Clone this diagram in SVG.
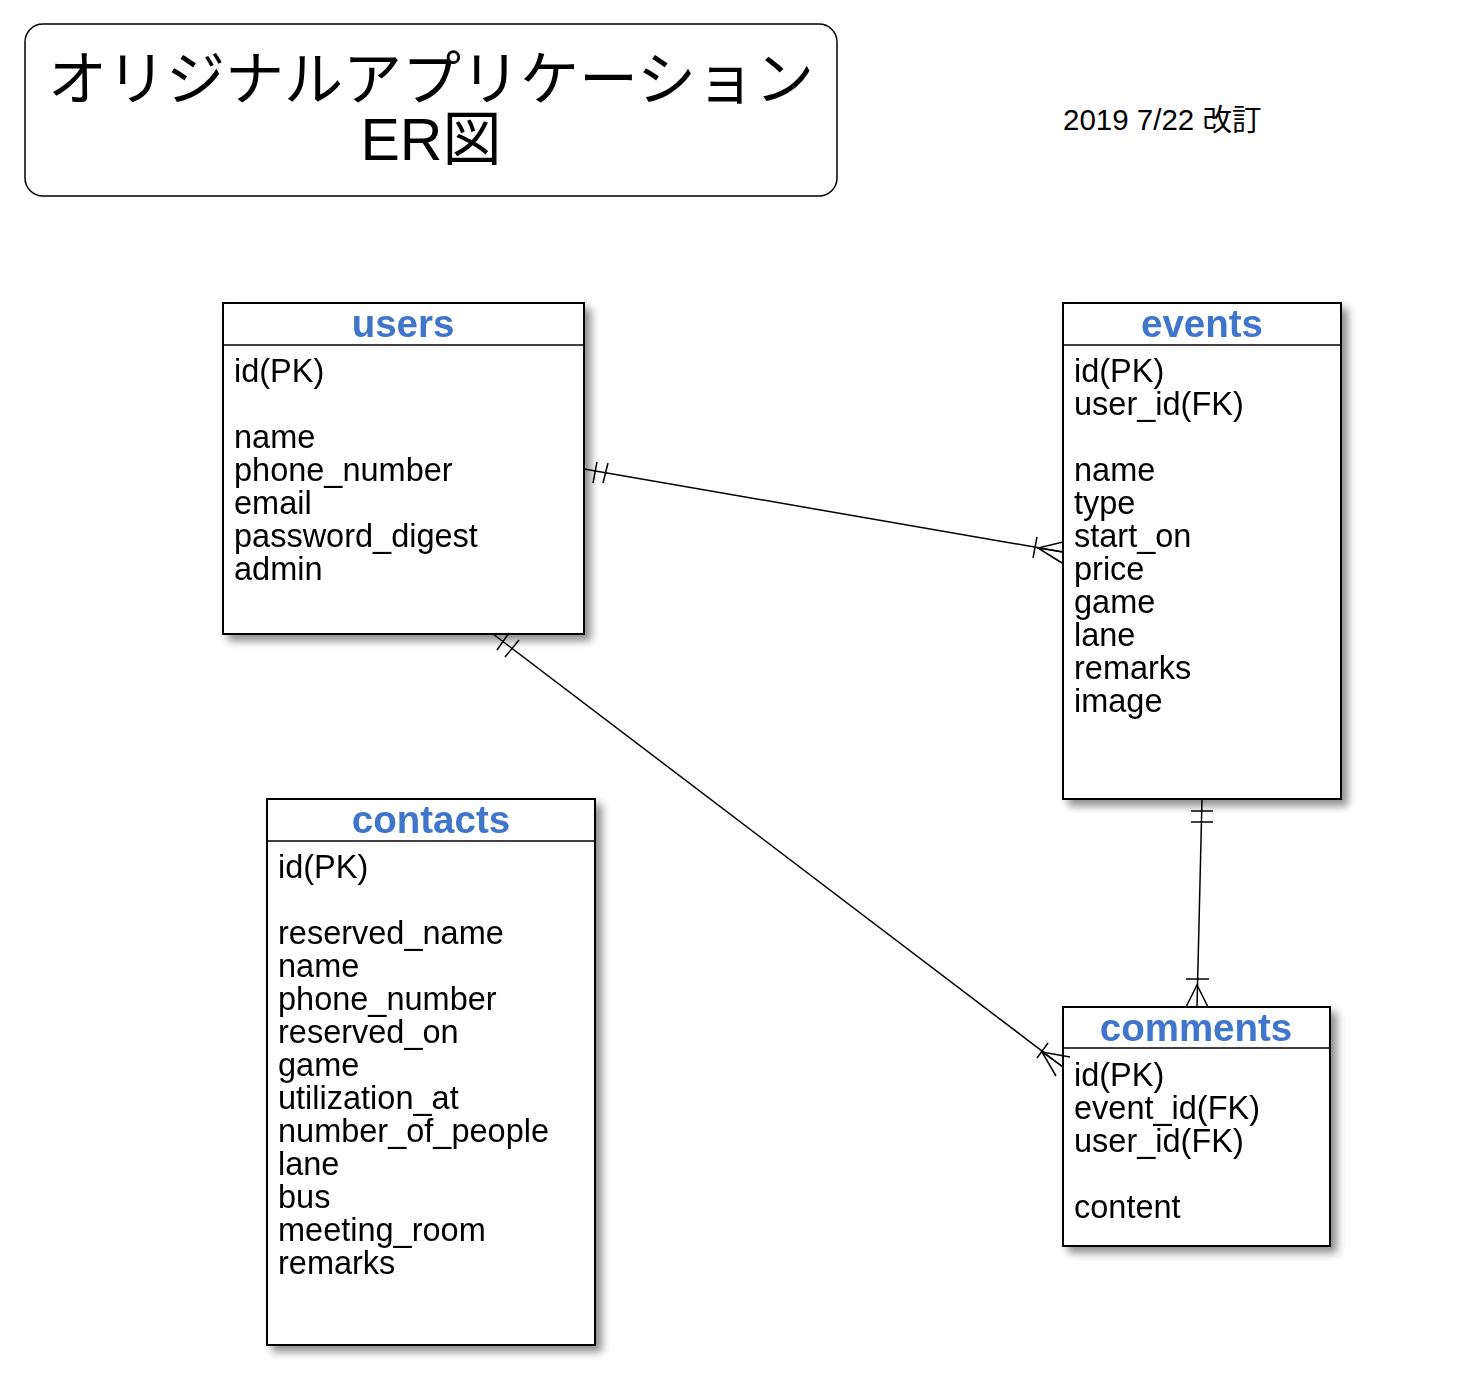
<svg xmlns="http://www.w3.org/2000/svg" width="1464" height="1384" viewBox="0 0 1464 1384">
<defs>
<filter id="sh" x="-10%" y="-10%" width="130%" height="130%">
<feGaussianBlur in="SourceAlpha" stdDeviation="4"/>
<feOffset dx="6" dy="6" result="b"/>
<feComponentTransfer><feFuncA type="linear" slope="0.45"/></feComponentTransfer>
<feMerge><feMergeNode/><feMergeNode in="SourceGraphic"/></feMerge>
</filter>
</defs>
<style>
.box{fill:#fff;stroke:#000;stroke-width:2}
.hd{fill:none;stroke:#000;stroke-width:1.5}
.ttl{font-family:"Liberation Sans",Arial,sans-serif;font-weight:bold;font-size:38.5px;fill:#3F74CC;text-anchor:middle}
.att{font-family:"Liberation Sans",Arial,sans-serif;font-size:32.5px;fill:#000}
.ln{fill:none;stroke:#000;stroke-width:1.5}
.jp{font-family:"Liberation Sans","Noto Sans CJK JP",sans-serif;fill:#000}
</style>
<rect width="1464" height="1384" fill="#fff"/>
<g id="title">
<rect x="25" y="24" width="812" height="172" rx="18" ry="18" fill="#fff" stroke="#000" stroke-width="1.5"/>
<text class="jp" x="431" y="100" font-size="59" text-anchor="middle">オリジナルアプリケーション</text>
<text class="jp" x="431" y="160" font-size="59" text-anchor="middle">ER図</text>
</g>
<g id="date">
<text class="jp" x="1063" y="130" font-size="29.5">2019 7/22 改訂</text>
</g>
<g id="users" filter="url(#sh)">
<rect class="box" x="223" y="303" width="361" height="331"/>
<line class="hd" x1="223" y1="345" x2="584" y2="345"/>
<text class="ttl" x="403" y="337">users</text>
<text class="att" x="234" y="382">id(PK)</text>
<text class="att" x="234" y="448">name</text>
<text class="att" x="234" y="481">phone_number</text>
<text class="att" x="234" y="514">email</text>
<text class="att" x="234" y="547">password_digest</text>
<text class="att" x="234" y="580">admin</text>
</g>
<g id="events" filter="url(#sh)">
<rect class="box" x="1063" y="303" width="278" height="496"/>
<line class="hd" x1="1063" y1="345" x2="1341" y2="345"/>
<text class="ttl" x="1202" y="337">events</text>
<text class="att" x="1074" y="382">id(PK)</text>
<text class="att" x="1074" y="415">user_id(FK)</text>
<text class="att" x="1074" y="481">name</text>
<text class="att" x="1074" y="514">type</text>
<text class="att" x="1074" y="547">start_on</text>
<text class="att" x="1074" y="580">price</text>
<text class="att" x="1074" y="613">game</text>
<text class="att" x="1074" y="646">lane</text>
<text class="att" x="1074" y="679">remarks</text>
<text class="att" x="1074" y="712">image</text>
</g>
<g id="contacts" filter="url(#sh)">
<rect class="box" x="267" y="799" width="328" height="546"/>
<line class="hd" x1="267" y1="841" x2="595" y2="841"/>
<text class="ttl" x="431" y="833">contacts</text>
<text class="att" x="278" y="878">id(PK)</text>
<text class="att" x="278" y="944">reserved_name</text>
<text class="att" x="278" y="977">name</text>
<text class="att" x="278" y="1010">phone_number</text>
<text class="att" x="278" y="1043">reserved_on</text>
<text class="att" x="278" y="1076">game</text>
<text class="att" x="278" y="1109">utilization_at</text>
<text class="att" x="278" y="1142">number_of_people</text>
<text class="att" x="278" y="1175">lane</text>
<text class="att" x="278" y="1208">bus</text>
<text class="att" x="278" y="1241">meeting_room</text>
<text class="att" x="278" y="1274">remarks</text>
</g>
<g id="comments" filter="url(#sh)">
<rect class="box" x="1063" y="1007" width="267" height="239"/>
<line class="hd" x1="1063" y1="1048" x2="1330" y2="1048"/>
<text class="ttl" x="1196" y="1041">comments</text>
<text class="att" x="1074" y="1086">id(PK)</text>
<text class="att" x="1074" y="1119">event_id(FK)</text>
<text class="att" x="1074" y="1152">user_id(FK)</text>
<text class="att" x="1074" y="1218">content</text>
</g>
<g id="connectors">
<line class="ln" x1="584" y1="469" x2="1063" y2="552"/>
<line class="ln" x1="593" y1="483" x2="597" y2="462"/>
<line class="ln" x1="603" y1="483" x2="608" y2="463"/>
<line class="ln" x1="1033" y1="558" x2="1037" y2="537"/>
<path class="ln" d="M1063 542 L1038 548 L1062 563 M1038 548 L1063 552"/>
<line class="ln" x1="493" y1="634" x2="1063" y2="1067"/>
<line class="ln" x1="497" y1="650" x2="509" y2="633"/>
<line class="ln" x1="505" y1="657" x2="519" y2="640"/>
<line class="ln" x1="1037" y1="1058" x2="1048" y2="1043"/>
<path class="ln" d="M1070 1057 L1042 1052 L1056 1076 M1042 1052 L1063 1067"/>
<line class="ln" x1="1202" y1="799" x2="1197" y2="1007"/>
<line class="ln" x1="1191" y1="811" x2="1213" y2="811"/>
<line class="ln" x1="1191" y1="822" x2="1213" y2="822"/>
<line class="ln" x1="1186" y1="979" x2="1209" y2="979"/>
<path class="ln" d="M1186 1007 L1197 985 L1208 1007"/>
</g>
</svg>
